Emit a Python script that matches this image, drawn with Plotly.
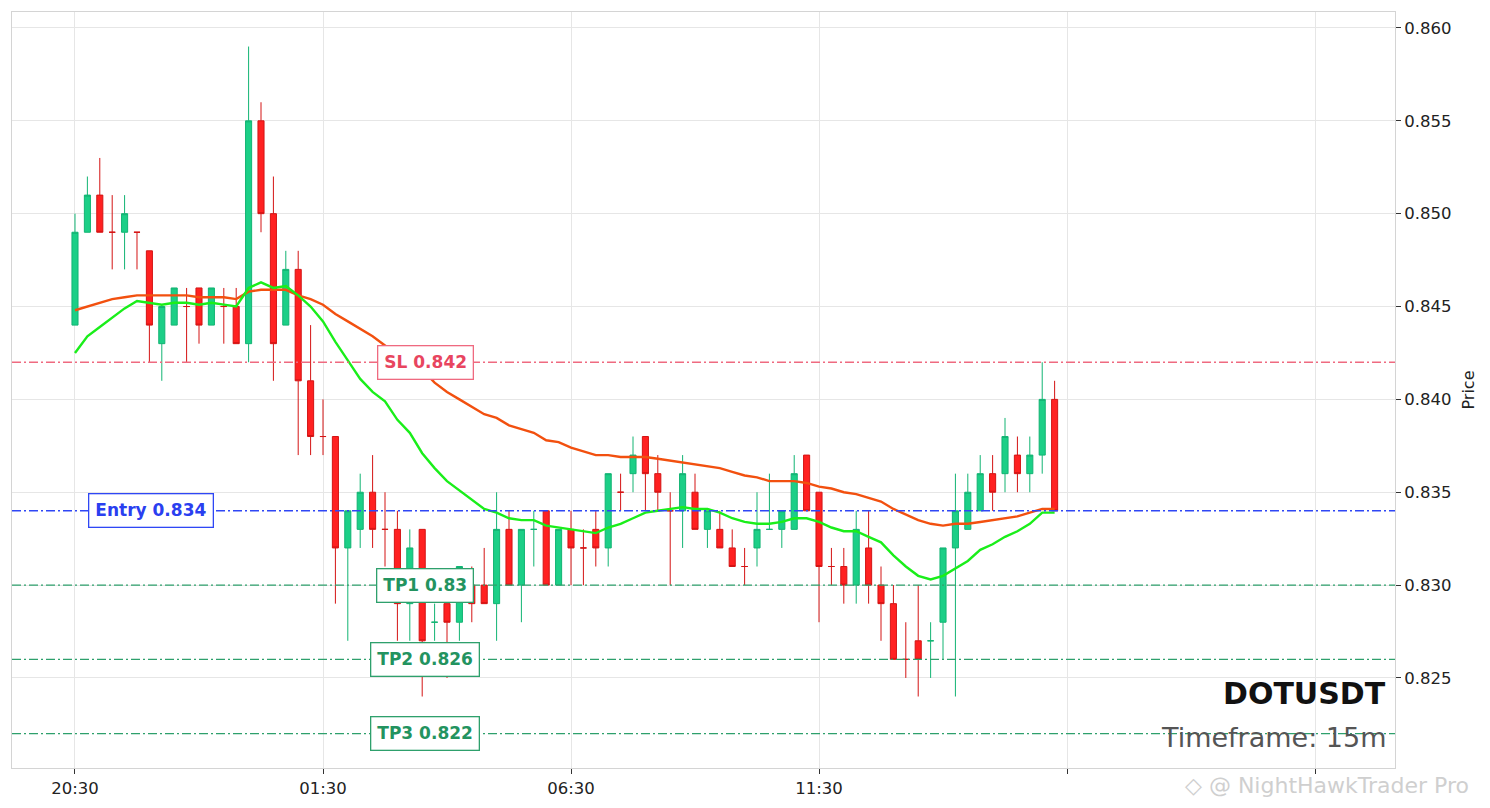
import pandas as pd
import plotly.graph_objects as go

# ---------------- data ----------------
start_time = "2024-05-20 20:30"
n_candles = 80
times = pd.date_range(start_time, periods=n_candles, freq="15min")

opens = [0.844, 0.849, 0.851, 0.849, 0.849, 0.849, 0.848, 0.843, 0.844, 0.845,
         0.846, 0.844, 0.845, 0.845, 0.843, 0.855, 0.850, 0.844, 0.847, 0.841,
         0.838, 0.838, 0.832, 0.833, 0.835, 0.833, 0.833, 0.829, 0.833, 0.828,
         0.829, 0.828, 0.830, 0.830, 0.829, 0.833, 0.830, 0.833, 0.834, 0.830,
         0.833, 0.832, 0.833, 0.832, 0.835, 0.836, 0.838, 0.836, 0.834, 0.834,
         0.835, 0.833, 0.833, 0.832, 0.831, 0.832, 0.833, 0.833, 0.833, 0.837,
         0.835, 0.831, 0.831, 0.830, 0.832, 0.830, 0.829, 0.826, 0.827, 0.827,
         0.828, 0.832, 0.833, 0.834, 0.836, 0.836, 0.837, 0.836, 0.837, 0.840]
highs = [0.850, 0.852, 0.853, 0.851, 0.851, 0.849, 0.848, 0.845, 0.846, 0.846,
         0.846, 0.846, 0.846, 0.846, 0.859, 0.856, 0.852, 0.848, 0.848, 0.844,
         0.840, 0.838, 0.834, 0.836, 0.837, 0.835, 0.834, 0.833, 0.833, 0.829,
         0.829, 0.831, 0.831, 0.832, 0.835, 0.834, 0.833, 0.834, 0.834, 0.833,
         0.834, 0.833, 0.834, 0.836, 0.836, 0.838, 0.838, 0.837, 0.835, 0.837,
         0.836, 0.834, 0.834, 0.833, 0.832, 0.835, 0.836, 0.834, 0.837, 0.837,
         0.835, 0.832, 0.832, 0.834, 0.834, 0.831, 0.830, 0.828, 0.830, 0.828,
         0.832, 0.836, 0.836, 0.837, 0.837, 0.839, 0.838, 0.838, 0.842, 0.841]
lows = [0.844, 0.849, 0.849, 0.847, 0.847, 0.847, 0.842, 0.841, 0.844, 0.842,
        0.843, 0.844, 0.843, 0.843, 0.842, 0.849, 0.841, 0.844, 0.837, 0.837,
        0.837, 0.829, 0.827, 0.832, 0.832, 0.831, 0.827, 0.827, 0.824, 0.827,
        0.825, 0.827, 0.828, 0.829, 0.827, 0.830, 0.828, 0.831, 0.830, 0.830,
        0.830, 0.830, 0.831, 0.831, 0.834, 0.835, 0.834, 0.834, 0.830, 0.832,
        0.833, 0.832, 0.832, 0.831, 0.830, 0.831, 0.833, 0.832, 0.833, 0.834,
        0.828, 0.830, 0.829, 0.829, 0.829, 0.827, 0.826, 0.825, 0.824, 0.825,
        0.826, 0.824, 0.833, 0.834, 0.834, 0.835, 0.835, 0.835, 0.836, 0.834]
closes = [0.849, 0.851, 0.849, 0.849, 0.850, 0.849, 0.844, 0.845, 0.846, 0.845,
          0.844, 0.846, 0.845, 0.843, 0.855, 0.850, 0.843, 0.847, 0.841, 0.838,
          0.838, 0.832, 0.834, 0.835, 0.833, 0.833, 0.829, 0.832, 0.827, 0.828,
          0.828, 0.831, 0.829, 0.829, 0.833, 0.830, 0.833, 0.833, 0.830, 0.833,
          0.832, 0.832, 0.832, 0.836, 0.835, 0.837, 0.836, 0.835, 0.834, 0.836,
          0.833, 0.834, 0.832, 0.831, 0.831, 0.833, 0.833, 0.834, 0.836, 0.834,
          0.831, 0.831, 0.830, 0.833, 0.830, 0.829, 0.826, 0.826, 0.826, 0.827,
          0.832, 0.834, 0.835, 0.836, 0.835, 0.838, 0.836, 0.837, 0.840, 0.834]

# slow moving average (orange)
slow_line = [0.8448, 0.8450, 0.8452, 0.8454, 0.8455, 0.8456, 0.8456, 0.8456, 0.8456, 0.8456,
             0.8455, 0.8455, 0.8455, 0.8454, 0.8458, 0.8459, 0.8459, 0.8459, 0.8456, 0.8454,
             0.8451, 0.8446, 0.8442, 0.8438, 0.8434, 0.8429, 0.8424, 0.8420, 0.8416, 0.8409,
             0.8404, 0.8400, 0.8396, 0.8392, 0.8390, 0.8386, 0.8384, 0.8382, 0.8378, 0.8377,
             0.8374, 0.8372, 0.8370, 0.8370, 0.8369, 0.8369, 0.8369, 0.8368, 0.8367, 0.8366,
             0.8365, 0.8364, 0.8363, 0.8361, 0.8359, 0.8358, 0.8356, 0.8356, 0.8356, 0.8355,
             0.8353, 0.8352, 0.8350, 0.8349, 0.8347, 0.8345, 0.8341, 0.8338, 0.8335, 0.8333,
             0.8332, 0.8333, 0.8333, 0.8334, 0.8335, 0.8336, 0.8337, 0.8339, 0.8341, 0.8341]
# fast moving average (green)
fast_line = [0.8425, 0.8434, 0.8439, 0.8444, 0.8449, 0.8453, 0.8452, 0.8451, 0.8452, 0.8452,
             0.8451, 0.8452, 0.8451, 0.8450, 0.8460, 0.8463, 0.8460, 0.8461, 0.8456, 0.8450,
             0.8442, 0.8431, 0.8421, 0.8411, 0.8404, 0.8399, 0.8389, 0.8382, 0.8371, 0.8363,
             0.8356, 0.8351, 0.8346, 0.8341, 0.8339, 0.8336, 0.8335, 0.8335, 0.8332, 0.8331,
             0.8330, 0.8329, 0.8328, 0.8331, 0.8333, 0.8336, 0.8339, 0.8340, 0.8341, 0.8342,
             0.8341, 0.8341, 0.8339, 0.8336, 0.8334, 0.8333, 0.8333, 0.8334, 0.8336, 0.8336,
             0.8334, 0.8331, 0.8329, 0.8329, 0.8326, 0.8323, 0.8316, 0.8310, 0.8305, 0.8303,
             0.8305, 0.8309, 0.8313, 0.8319, 0.8322, 0.8326, 0.8329, 0.8333, 0.8339, 0.8339]

level_names = ["SL", "Entry", "TP1", "TP2", "TP3"]
level_values = [0.842, 0.834, 0.83, 0.826, 0.822]

x_tick_labels = ["20:30", "01:30", "06:30", "11:30", "", ""]
y_tick_values = [0.825, 0.830, 0.835, 0.840, 0.845, 0.850, 0.855, 0.860]

symbol = "DOTUSDT"
timeframe = "15m"
watermark = "◇ @ NightHawkTrader Pro"

# ---------------- styles ----------------
FONT = "DejaVu Sans"
level_styles = {
    "SL": dict(line="#ef6a80", text="#e8455f", xpaper=0.2993),
    "Entry": dict(line="#2f47f5", text="#2a3ff0", xpaper=0.1005),
    "TP1": dict(line="#2ea06c", text="#23935f", xpaper=0.2986),
    "TP2": dict(line="#2ea06c", text="#23935f", xpaper=0.2986),
    "TP3": dict(line="#2ea06c", text="#23935f", xpaper=0.2986),
}

step = pd.Timedelta(minutes=15)
x_start = times[0] - step * 5.08
x_end = times[0] + step * 106.45
tick_vals = [times[0] + pd.Timedelta(hours=5 * k) for k in range(len(x_tick_labels))]

fig = go.Figure()
fig.add_trace(go.Candlestick(
    x=times, open=opens, high=highs, low=lows, close=closes,
    increasing=dict(fillcolor="#1ccf87", line=dict(color="#12b473", width=1)),
    decreasing=dict(fillcolor="#ff2121", line=dict(color="#d41414", width=1)),
    whiskerwidth=0, showlegend=False, name=symbol,
))
fig.add_trace(go.Scatter(x=times, y=slow_line, mode="lines",
                         line=dict(color="#f2500f", width=2.4), showlegend=False))
fig.add_trace(go.Scatter(x=times, y=fast_line, mode="lines",
                         line=dict(color="#1aee1a", width=2.4), showlegend=False))

for name, val in zip(level_names, level_values):
    st = level_styles[name]
    fig.add_hline(y=val, line=dict(color=st["line"], width=1.4, dash="9px,3px,2px,3px"))
    fig.add_annotation(
        x=st["xpaper"], xref="paper", y=val, yref="y",
        text=f"<b>{name} {val:g}</b>", showarrow=False,
        font=dict(family=FONT, size=17, color=st["text"]),
        bgcolor="white", bordercolor=st["line"], borderwidth=1.3, borderpad=6,
        xanchor="center", yanchor="middle",
    )

fig.add_annotation(x=0.9949, xref="paper", y=0.0992, yref="paper",
                   text=f"<b>{symbol}</b>", showarrow=False,
                   font=dict(family=FONT, size=30, color="#111111"),
                   xanchor="right", yanchor="middle")
fig.add_annotation(x=0.9949, xref="paper", y=0.041, yref="paper",
                   text=f"Timeframe: {timeframe}", showarrow=False,
                   font=dict(family=FONT, size=27, color="#555555"),
                   xanchor="right", yanchor="middle")
fig.add_annotation(x=0.8467, xref="paper", y=-0.0225, yref="paper",
                   text=watermark, showarrow=False,
                   font=dict(family=FONT, size=22, color="#cfcfcf"),
                   xanchor="left", yanchor="middle")

# the page body adds an 8px offset, so margins compensate for it
fig.update_layout(
    width=1490, height=808,
    margin=dict(l=4, r=103, t=4, b=48),
    paper_bgcolor="white", plot_bgcolor="white",
    font=dict(family=FONT, size=16, color="#222222"),
    hovermode=False,
)
fig.update_xaxes(
    type="date", range=[x_start, x_end], rangeslider=dict(visible=False),
    tickmode="array", tickvals=tick_vals, ticktext=x_tick_labels,
    showgrid=True, gridcolor="#e6e6e6", gridwidth=1,
    showline=True, linecolor="#d4d4d4", linewidth=1, mirror=True,
    ticks="outside", ticklen=5, tickcolor="#333333",
    tickfont=dict(family=FONT, size=16.5, color="#222222"), zeroline=False,
)
fig.update_yaxes(
    side="right", range=[0.82015, 0.86086],
    tickmode="array", tickvals=y_tick_values, tickformat=".3f",
    showgrid=True, gridcolor="#e6e6e6", gridwidth=1,
    showline=True, linecolor="#d4d4d4", linewidth=1, mirror=True,
    ticks="outside", ticklen=5, tickcolor="#333333",
    tickfont=dict(family=FONT, size=16.5, color="#222222"), zeroline=False,
    title=dict(text="Price", font=dict(family=FONT, size=16, color="#222222"), standoff=12),
)

fig.write_html("out.html")
